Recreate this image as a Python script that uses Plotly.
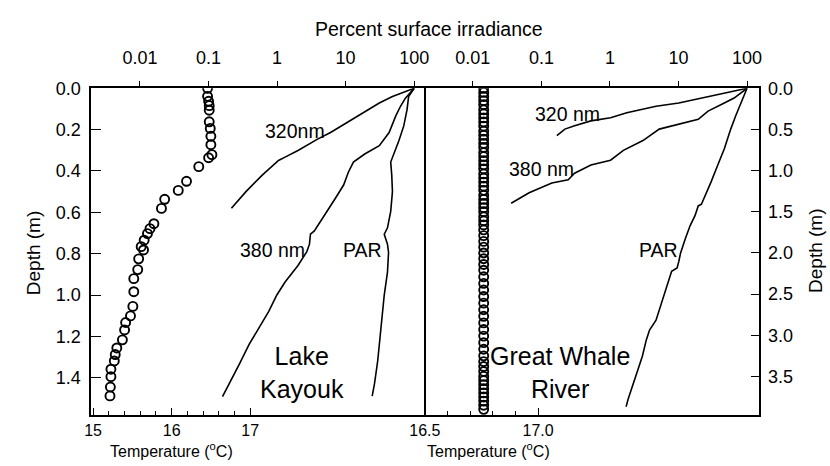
import plotly.graph_objects as go

W, H = 830, 466

# ---------------- data ----------------
# Lake Kayouk temperature profile
lk_temp_depth = [0, 0.039, 0.063, 0.084, 0.106, 0.162, 0.194, 0.232, 0.273, 0.321, 0.336, 0.379,
                 0.450, 0.494, 0.537, 0.581, 0.655, 0.679, 0.703, 0.735, 0.766, 0.782, 0.825, 0.877,
                 0.921, 0.984, 1.055, 1.101, 1.133, 1.169, 1.217, 1.256, 1.288, 1.319, 1.359, 1.395,
                 1.445, 1.488]
lk_temp = [16.457, 16.457, 16.470, 16.478, 16.478, 16.478, 16.491, 16.499, 16.499, 16.512, 16.470,
           16.345, 16.189, 16.084, 15.911, 15.870, 15.774, 15.724, 15.692, 15.650, 15.612, 15.642,
           15.580, 15.568, 15.518, 15.518, 15.506, 15.476, 15.414, 15.401, 15.373, 15.302, 15.282,
           15.270, 15.227, 15.227, 15.220, 15.215]

# Lake Kayouk irradiance profiles (% surface)
lk_320_depth = [0, 0.024, 0.040, 0.071, 0.119, 0.159, 0.214, 0.246, 0.301, 0.333, 0.349, 0.420, 0.5, 0.58]
lk_320_pct = [100, 66.8, 48.2, 31.0, 18.0, 11.6, 6.03, 3.90, 2.02, 1.31, 1.05, 0.608, 0.352, 0.216]

lk_380_depth = [0, 0.048, 0.087, 0.135, 0.214, 0.278, 0.318, 0.357, 0.405, 0.468, 0.532, 0.595, 0.643,
                0.690, 0.706, 0.754, 0.790, 0.857, 0.937, 1.0, 1.079, 1.159, 1.238, 1.333, 1.429, 1.492]
lk_380_pct = [100, 74.5, 63.2, 53.7, 43.1, 31.0, 19.0, 13.0, 11.0, 9.35, 7.10, 5.41, 4.35, 3.50, 3.07,
              2.97, 2.72, 2.02, 1.31, 0.993, 0.757, 0.546, 0.393, 0.283, 0.204, 0.160]

lk_par_depth = [0, 0.040, 0.103, 0.182, 0.254, 0.318, 0.357, 0.420, 0.5, 0.595, 0.675, 0.706, 0.754,
                0.794, 0.889, 1.0, 1.159, 1.318, 1.429, 1.489]
lk_par_pct = [100, 83.0, 78.7, 70.5, 59.8, 50.7, 45.5, 47.1, 48.2, 45.5, 40.8, 36.6, 40.8, 42.3, 40.8,
              36.6, 32.8, 29.4, 26.4, 24.4]

# Great Whale River temperature profile
gw_temp_depth = [0.00, 0.05, 0.10, 0.15, 0.20, 0.26, 0.31, 0.36, 0.41, 0.46, 0.52, 0.57, 0.62, 0.67,
                 0.72, 0.78, 0.83, 0.88, 0.93, 0.98, 1.04, 1.09, 1.14, 1.19, 1.24, 1.30, 1.35, 1.40,
                 1.45, 1.50, 1.56, 1.61, 1.66, 1.72, 1.79, 1.86, 1.93, 2.00, 2.07, 2.14, 2.21, 2.29,
                 2.37, 2.45, 2.53, 2.61, 2.69, 2.77, 2.85, 2.93, 3.01, 3.09, 3.17, 3.25, 3.32, 3.38,
                 3.44, 3.50, 3.55, 3.60, 3.65, 3.70, 3.75, 3.80, 3.85, 3.90]
gw_temp = [16.76] * len(gw_temp_depth)

# Great Whale River irradiance profiles (% surface)
gw_320_depth = [0, 0.060, 0.119, 0.179, 0.218, 0.258, 0.298, 0.357, 0.396, 0.456, 0.496, 0.575]
gw_320_pct = [100, 46.6, 24.2, 10.1, 4.70, 2.72, 1.76, 1.02, 0.527, 0.305, 0.220, 0.168]

gw_380_depth = [0, 0.119, 0.179, 0.277, 0.377, 0.417, 0.496, 0.635, 0.754, 0.873, 0.932, 1.032, 1.111,
                1.151, 1.270, 1.396]
gw_380_pct = [100, 64.7, 46.6, 27.0, 19.4, 12.6, 5.24, 3.03, 1.57, 1.02, 0.527, 0.305, 0.246, 0.142,
              0.0662, 0.0362]

gw_par_depth = [0, 0.179, 0.337, 0.496, 0.735, 0.932, 1.131, 1.408, 1.429, 1.548, 1.667, 1.825, 2.004,
                2.104, 2.182, 2.222, 2.381, 2.580, 2.818, 2.937, 3.056, 3.254, 3.413, 3.571, 3.770, 3.869]
gw_par_pct = [100, 80.4, 68.1, 57.8, 46.6, 37.4, 30.1, 21.6, 19.4, 17.4, 14.8, 12.6, 10.7, 10.1, 9.53,
              7.94, 6.87, 5.83, 4.70, 3.78, 3.39, 2.97, 2.57, 2.18, 1.85, 1.72]

irr_tickvals = [0.01, 0.1, 1, 10, 100]
irr_ticktext = ["0.01", "0.1", "1", "10", "100"]
lk_temp_ticks = [15, 16, 17]
lk_temp_minor = [15.2, 15.4, 15.6, 15.8, 16.2, 16.4, 16.6, 16.8]
gw_temp_ticks = [16.5, 17.0]
gw_temp_minor = [16.6, 16.7, 16.8, 16.9]

# ---------------- figure ----------------
FONT = "Arial, Liberation Sans, Helvetica, sans-serif"
BLACK = "black"

def px(x):
    return x / W

def py(y):
    return 1 - y / H

fig = go.Figure()

marker = dict(symbol="circle-open", size=9, color=BLACK, line=dict(width=1.9, color=BLACK))
line = dict(color=BLACK, width=1.6)

fig.add_trace(go.Scatter(x=lk_temp, y=lk_temp_depth, mode="markers", marker=marker,
                         xaxis="x", yaxis="y", showlegend=False))
for xs, ys in [(lk_320_pct, lk_320_depth), (lk_380_pct, lk_380_depth), (lk_par_pct, lk_par_depth)]:
    fig.add_trace(go.Scatter(x=xs, y=ys, mode="lines", line=line, xaxis="x2", yaxis="y",
                             showlegend=False))
fig.add_trace(go.Scatter(x=gw_temp, y=gw_temp_depth, mode="markers", marker=marker,
                         xaxis="x3", yaxis="y2", showlegend=False))
for xs, ys in [(gw_320_pct, gw_320_depth), (gw_380_pct, gw_380_depth), (gw_par_pct, gw_par_depth)]:
    fig.add_trace(go.Scatter(x=xs, y=ys, mode="lines", line=line, xaxis="x4", yaxis="y2",
                             showlegend=False))

dom_l = [px(78), px(419)]
dom_r = [px(419), px(762)]
dom_y = [py(414), py(80)]
tickfont = dict(family=FONT, size=18, color=BLACK)
botfont = dict(family=FONT, size=16, color=BLACK)

common = dict(showgrid=False, zeroline=False, showline=True, linecolor=BLACK, linewidth=1.5,
              tickcolor=BLACK, tickwidth=1.2)

fig.update_layout(
    width=W, height=H, margin=dict(l=0, r=0, t=0, b=0),
    paper_bgcolor="white", plot_bgcolor="white",
    xaxis=dict(domain=dom_l, range=[14.975, 19.21], anchor="y", side="bottom",
               tickmode="array", tickvals=lk_temp_ticks, ticktext=["15", "16", "17"],
               ticks="inside", ticklen=7, tickfont=botfont, ticklabelstandoff=0,
               minor=dict(tickmode="array", tickvals=lk_temp_minor, ticks="inside", ticklen=4,
                          tickcolor=BLACK, tickwidth=1.2),
               **common),
    xaxis2=dict(domain=dom_l, type="log", range=[-2.712, 2.142], anchor="y", overlaying="x",
                side="top", tickmode="array", tickvals=irr_tickvals, ticktext=irr_ticktext,
                ticks="outside", ticklen=6, tickfont=tickfont, ticklabelstandoff=9, **common),
    yaxis=dict(domain=dom_y, range=[1.581, 0], anchor="x", side="left", mirror=True,
               tickmode="linear", tick0=0, dtick=0.2, tickformat=".1f",
               ticks="inside", ticklen=10, tickfont=tickfont, ticklabelstandoff=5, **common),
    xaxis3=dict(domain=dom_r, range=[16.496, 17.974], anchor="y2", side="bottom",
                tickmode="array", tickvals=gw_temp_ticks, ticktext=["16.5", "17.0"],
                ticks="inside", ticklen=7, tickfont=botfont, ticklabelstandoff=0,
                minor=dict(tickmode="array", tickvals=gw_temp_minor, ticks="inside", ticklen=4,
                           tickcolor=BLACK, tickwidth=1.2),
                **common),
    xaxis4=dict(domain=dom_r, type="log", range=[-2.714, 2.169], anchor="y2", overlaying="x3",
                side="top", tickmode="array", tickvals=irr_tickvals, ticktext=irr_ticktext,
                ticks="outside", ticklen=6, tickfont=tickfont, ticklabelstandoff=9, **common),
    yaxis2=dict(domain=dom_y, range=[3.97, 0], anchor="x3", side="right", mirror=False,
                tickmode="linear", tick0=0, dtick=0.5, tickformat=".1f",
                ticks="inside", ticklen=8, tickfont=tickfont, ticklabelstandoff=4, **common),
)

def ann(text, x, y, size, angle=0):
    fig.add_annotation(text=text, x=px(x), y=py(y), xref="paper", yref="paper",
                       xanchor="center", yanchor="middle", showarrow=False, textangle=angle,
                       font=dict(family=FONT, size=size, color=BLACK))

ann("Percent surface irradiance", 424, 19, 19.5)
ann("Depth (m)", 19, 249, 19, -90)
ann("Depth (m)", 821, 246, 19, -90)
ann("Temperature (<sup>o</sup>C)", 160, 450, 16)
ann("Temperature (<sup>o</sup>C)", 485, 450, 16)

ann("320nm", 287, 124, 19.5)
ann("380 nm", 264, 245, 19.5)
ann("PAR", 356, 245, 19.5)
ann("Lake<br>Kayouk", 294, 370, 25)
ann("320 nm", 566, 106, 19.5)
ann("380 nm", 540, 162, 19.5)
ann("PAR", 659, 245, 19.5)
ann("Great Whale<br>River", 558, 370, 25)

fig.write_html("out.html")
